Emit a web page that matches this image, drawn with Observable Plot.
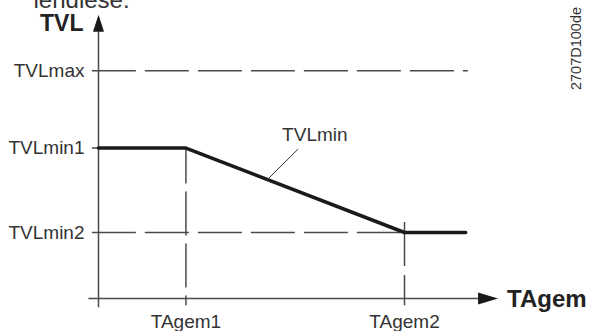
<!DOCTYPE html>
<html>
<head>
<meta charset="utf-8">
<script src="https://cdn.jsdelivr.net/npm/d3@7"></script>
<script src="https://cdn.jsdelivr.net/npm/@observablehq/plot@0.6"></script>
<style>
  html, body { margin: 0; padding: 0; background: #fff; }
  #chart svg { display: block; }
</style>
</head>
<body>
<div id="chart"></div>
<script>
// ---- data (schematic units) ----
const levelNames = ["TVLmax", "TVLmin1", "TVLmin2"];
const levelValues = [3.45, 2.28, 1];
const pointNames = ["TAgem1", "TAgem2"];
const pointValues = [1, 3.5];
const curveX = [0, 1, 3.5, 4.2];
const curveY = [2.28, 2.28, 1, 1];
const curveLabel = "TVLmin";
const yTitle = "TVL";
const xTitle = "TAgem";
const docCode = "2707D100de";
const topText = "lendlese.";

// axis extents (schematic units)
const xAxisStart = -0.11, xAxisEnd = 4.57;
const yAxisStart = -0.14, yAxisEnd = 4.3;
const dashStart = -0.07, maxDashEnd = 4.23;
const tickBelow = -0.11;
const tagem2DashTop = 1.15;
// annotation: label position and where the leader touches the curve
const annX = [2.28, 1.93];
const annY = [2.26, 1.8];

const curve = curveX.map((x, i) => ({x, y: curveY[i]}));
const levels = levelNames.map((n, i) => ({name: n, y: levelValues[i]}));
const points = pointNames.map((n, i) => ({name: n, x: pointValues[i]}));

const arrowHead = (len, wid) => ({
  draw(ctx) {
    ctx.moveTo(0, 0);
    ctx.lineTo(-wid / 2, len);
    ctx.lineTo(wid / 2, len);
    ctx.closePath();
  }
});

const gray = "#4a4a4a";
const textCol = "#333";

const chart = Plot.plot({
  width: 589,
  height: 331,
  margin: 0,
  style: {fontFamily: "'Liberation Sans', Arial, sans-serif", background: "#fff"},
  x: {type: "linear", domain: [0, 3.5], range: [98, 404], axis: null},
  y: {type: "linear", domain: [0, 1], range: [298, 232], axis: null},
  marks: [
    // dashed horizontal reference lines
    Plot.ruleY([levels[0]], {y: "y", x1: dashStart, x2: maxDashEnd, stroke: gray, strokeWidth: 1.5, strokeDasharray: "44,9"}),
    Plot.ruleY([levels[2]], {y: "y", x1: dashStart, x2: pointValues[1], stroke: gray, strokeWidth: 1.5, strokeDasharray: "44,9"}),
    // small tick for TVLmin1
    Plot.ruleY([levels[1]], {y: "y", x1: dashStart, x2: 0, stroke: gray, strokeWidth: 1.5}),
    // dashed vertical reference lines
    Plot.ruleX([points[0]], {x: "x", y1: levelValues[1], y2: tickBelow, stroke: gray, strokeWidth: 1.5, strokeDasharray: "44,8", strokeDashoffset: 8}),
    Plot.ruleX([points[1]], {x: "x", y1: tagem2DashTop, y2: tickBelow, stroke: gray, strokeWidth: 1.5, strokeDasharray: "44,9"}),
    // axes
    Plot.ruleY([0], {x1: xAxisStart, x2: xAxisEnd - 0.1, stroke: gray, strokeWidth: 1.5}),
    Plot.ruleX([0], {y1: yAxisStart, y2: yAxisEnd - 0.1, stroke: gray, strokeWidth: 1.5}),
    Plot.dot([{x: 0, y: yAxisEnd}], {x: "x", y: "y", symbol: arrowHead(17, 11), fill: "#1a1a1a", stroke: null, r: 5}),
    Plot.dot([{x: xAxisEnd, y: 0}], {x: "x", y: "y", symbol: arrowHead(20, 12), rotate: 90, fill: "#1a1a1a", stroke: null, r: 5}),
    // curve
    Plot.line(curve, {x: "x", y: "y", stroke: "#1a1a1a", strokeWidth: 3.5, strokeLinejoin: "miter"}),
    // leader line + label
    Plot.line(annX.map((x, i) => ({x, y: annY[i]})), {x: "x", y: "y", stroke: "#333", strokeWidth: 1}),
    Plot.text([{x: annX[0], y: annY[0]}], {x: "x", y: "y", text: () => curveLabel, dx: 17, dy: -14, fontSize: 19, fill: textCol, textAnchor: "middle"}),
    // y labels
    Plot.text(levels, {x: 0, y: "y", text: "name", dx: -14, textAnchor: "end", fontSize: 19, fill: textCol}),
    // x labels
    Plot.text(points, {x: "x", y: 0, text: "name", dy: 23, textAnchor: "middle", fontSize: 19, fill: textCol}),
    // axis titles
    Plot.text([0], {x: 0, y: yAxisEnd, text: () => yTitle, dx: -15, dy: 9, textAnchor: "end", fontSize: 23, fontWeight: "bold", fill: "#222"}),
    Plot.text([0], {x: xAxisEnd, y: 0, text: () => xTitle, dx: 9, dy: 1, textAnchor: "start", fontSize: 24, fontWeight: "bold", fill: "#222"}),
    // document code (rotated)
    Plot.text([0], {frameAnchor: "top-right", text: () => docCode, dx: -13, dy: 48, rotate: -90, textAnchor: "middle", lineAnchor: "middle", fontSize: 14.5, fill: textCol}),
    // clipped text at top (cut off in the reference as well)
    Plot.text([0], {frameAnchor: "top-left", text: () => topText, dx: 33, dy: 0, textAnchor: "start", lineAnchor: "middle", fontSize: 24, fill: textCol})
  ]
});
document.getElementById("chart").appendChild(chart);
</script>
</body>
</html>
